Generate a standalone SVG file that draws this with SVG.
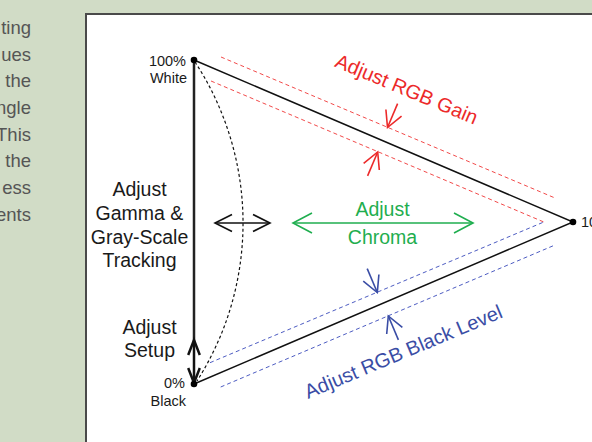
<svg xmlns="http://www.w3.org/2000/svg" width="592" height="442" viewBox="0 0 592 442">
<defs>
<style>
.bgt{font-family:"Liberation Sans",Arial,sans-serif;font-size:18.5px;fill:#555;text-anchor:end}
.lbl{font-family:"Liberation Sans",Arial,sans-serif;font-size:14.5px;fill:#1a1a1a}
.big{font-family:"Liberation Sans",Arial,sans-serif;font-size:19.5px;fill:#1a1a1a;text-anchor:middle}
.edge{stroke:#111;stroke-width:1.5;fill:none}
.axis{stroke:#222;stroke-width:2.5;fill:none}
.dr{stroke:#f24a4a;stroke-width:1;stroke-dasharray:4 3;fill:none}
.db{stroke:#4d5cc2;stroke-width:1;stroke-dasharray:4 3;fill:none}
.curve{stroke:#111;stroke-width:1.2;stroke-dasharray:3 2.5;fill:none}
.ak{stroke:#111;stroke-width:1.6;fill:none}
.ag{stroke:#1fae4f;stroke-width:1.6;fill:none}
.ar{stroke:#ec2a2a;stroke-width:1.6;fill:none}
.ab{stroke:#3a4da5;stroke-width:1.6;fill:none}
.as{stroke:#111;stroke-width:2.5;fill:none}
.dot{fill:#000}
</style>
<marker id="mk" markerUnits="userSpaceOnUse" viewBox="-20 -10 22 20" refX="0" refY="0" markerWidth="22" markerHeight="20" orient="auto-start-reverse" overflow="visible"><path d="M-17,-8.5 L0,0 L-17,8.5" class="ak"/></marker>
<marker id="mg" markerUnits="userSpaceOnUse" viewBox="-22 -11 24 22" refX="0" refY="0" markerWidth="24" markerHeight="22" orient="auto-start-reverse" overflow="visible"><path d="M-19,-10 L0,0 L-19,10" class="ag"/></marker>
<marker id="mr" markerUnits="userSpaceOnUse" viewBox="-20 -10 22 20" refX="0" refY="0" markerWidth="22" markerHeight="20" orient="auto" overflow="visible"><path d="M-16,-8.5 L0,0 L-16,8.5" class="ar"/></marker>
<marker id="mb" markerUnits="userSpaceOnUse" viewBox="-20 -10 22 20" refX="0" refY="0" markerWidth="22" markerHeight="20" orient="auto" overflow="visible"><path d="M-16,-8.5 L0,0 L-16,8.5" class="ab"/></marker>
<marker id="ms" markerUnits="userSpaceOnUse" viewBox="-18 -8 20 16" refX="0" refY="0" markerWidth="20" markerHeight="16" orient="auto-start-reverse" overflow="visible"><path d="M-15,-5.8 L0,0 L-15,5.8" class="as"/></marker>
</defs>

<rect x="0" y="0" width="592" height="442" fill="#d1dcc6"/>
<g id="page-text">
<text class="bgt" x="31" y="34">ting</text>
<text class="bgt" x="31" y="60.5">ues</text>
<text class="bgt" x="31" y="87">the</text>
<text class="bgt" x="31" y="114">ngle</text>
<text class="bgt" x="31" y="140.5">This</text>
<text class="bgt" x="31" y="167">the</text>
<text class="bgt" x="31" y="194">ess</text>
<text class="bgt" x="31" y="220.5">ents</text>
</g>
<rect x="86" y="14" width="530" height="450" fill="#fff" stroke="#4a4a4a" stroke-width="2"/>

<g id="connectors">
<path class="dr" d="M221,57 L555,198"/>
<path class="dr" d="M211,81 L545,222.5"/>
<path class="db" d="M210,362.7 L545,221.5"/>
<path class="db" d="M220.7,387 L555,245"/>
<path class="curve" d="M195,62 A294,294 0 0 1 197,381"/>
<path class="edge" d="M194,60 L573,222 L194,384"/>
<path class="axis" d="M194,60 L194,340"/>
<path class="as" d="M194,340 L194,383" marker-start="url(#ms)" marker-end="url(#ms)"/>
<path class="ak" d="M215,223 L270,223" marker-start="url(#mk)" marker-end="url(#mk)"/>
<path class="ag" d="M293,223 L473,223" marker-start="url(#mg)" marker-end="url(#mg)"/>
<path class="ar" d="M397.6,103.6 L387.5,127.5" marker-end="url(#mr)"/>
<path class="ar" d="M367.6,175.9 L377.7,152" marker-end="url(#mr)"/>
<path class="ab" d="M367.2,268.6 L377.3,292.5" marker-end="url(#mb)"/>
<path class="ab" d="M398.4,339.9 L388.3,316" marker-end="url(#mb)"/>
</g>

<g id="node-white">
<circle class="dot" cx="194" cy="60" r="3.3"/>
<text class="lbl" x="186" y="66" text-anchor="end">100%</text>
<text class="lbl" x="187" y="83" text-anchor="end">White</text>
</g>
<g id="node-black">
<circle class="dot" cx="194" cy="384" r="3.3"/>
<text class="lbl" x="185" y="388" text-anchor="end">0%</text>
<text class="lbl" x="186" y="406" text-anchor="end">Black</text>
</g>
<g id="node-color">
<circle class="dot" cx="573" cy="222" r="3.3"/>
<text class="lbl" x="581" y="227">100%</text>
</g>
<g id="label-gamma">
<text class="big" x="139.5" y="196">Adjust</text>
<text class="big" x="139.5" y="220">Gamma &amp;</text>
<text class="big" x="139.5" y="244">Gray-Scale</text>
<text class="big" x="139.5" y="267">Tracking</text>
</g>
<g id="label-setup">
<text class="big" x="149.5" y="334">Adjust</text>
<text class="big" x="149.5" y="357">Setup</text>
</g>
<g id="label-chroma">
<text class="big" x="382.5" y="216" style="fill:#1fae4f">Adjust</text>
<text class="big" x="382.5" y="244" style="fill:#1fae4f">Chroma</text>
</g>
<g id="label-gain">
<text class="big" x="0" y="0" style="fill:#ec2a2a;font-size:20px" transform="translate(404,95.5) rotate(22.6)">Adjust RGB Gain</text>
</g>
<g id="label-blacklevel">
<text class="big" x="0" y="0" style="fill:#3a4da5;font-size:20px" transform="translate(406,358) rotate(-22.7)">Adjust RGB Black Level</text>
</g>
</svg>
